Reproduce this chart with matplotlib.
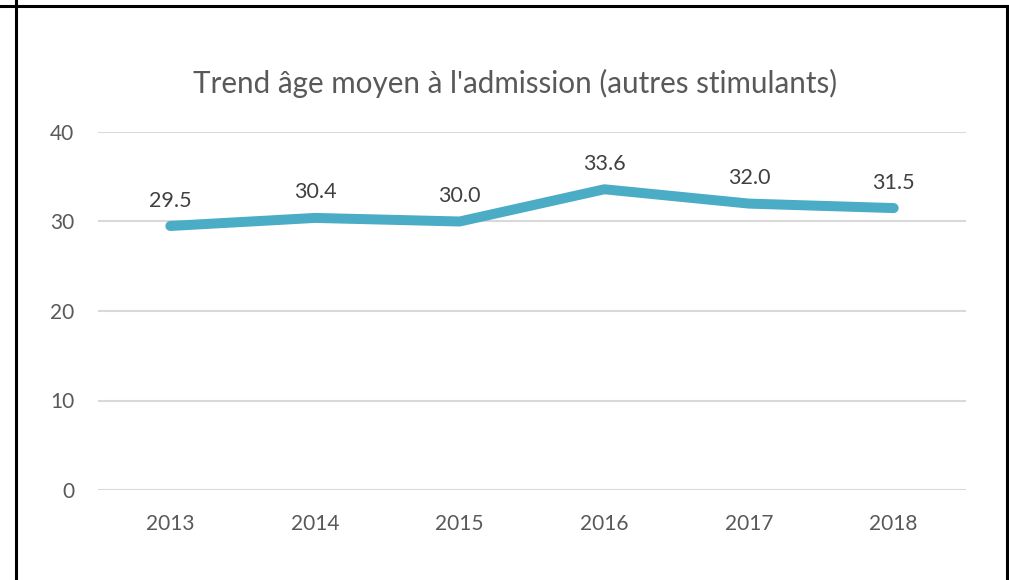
import matplotlib
matplotlib.use("Agg")
import matplotlib.pyplot as plt
from matplotlib.lines import Line2D

years = ["2013", "2014", "2015", "2016", "2017", "2018"]
values = [29.5, 30.4, 30.0, 33.6, 32.0, 31.5]
yticks = [0, 10, 20, 30, 40]
title = "Trend âge moyen à l'admission (autres stimulants)"

plt.rcParams['font.family'] = ['Lato', 'DejaVu Sans']

W, H = 1009, 580
fig = plt.figure(figsize=(W / 100, H / 100), dpi=100)
ax = fig.add_axes([98 / W, 1 - 490 / H, (966 - 98) / W, (490 - 132) / H])

x = list(range(len(years)))
ax.plot(x, values, color="#4BACC6", lw=7.2, solid_capstyle="round", solid_joinstyle="round", zorder=3)
for xi, v in zip(x, values):
    ax.annotate(f"{v:.1f}", (xi, v), xytext=(0, 14), textcoords="offset points",
                ha="center", va="baseline", fontsize=15.5, color="#404040")

ax.set_xlim(-0.5, len(years) - 0.5)
ax.set_ylim(0, 40)
ax.set_yticks(yticks)
ax.set_xticks(x)
ax.set_xticklabels(years)
ax.grid(axis="y", color="#D9D9D9", lw=1.5)
ax.set_axisbelow(True)
for s in ax.spines.values():
    s.set_visible(False)
ax.tick_params(axis="both", length=0, labelsize=15, labelcolor="#595959")
ax.tick_params(axis="y", pad=17)
ax.tick_params(axis="x", pad=17)

fig.text(515 / W, 1 - 92.5 / H, title, ha="center", va="baseline", fontsize=21.3, color="#595959")

# border lines
fig.add_artist(Line2D([0, 1008 / W], [1 - 5.5 / H, 1 - 5.5 / H], color="black", lw=2.2, transform=fig.transFigure))
fig.add_artist(Line2D([15.5 / W, 15.5 / W], [0, 1], color="black", lw=2.2, transform=fig.transFigure))
fig.add_artist(Line2D([1006.5 / W, 1006.5 / W], [0, 1 - 5.5 / H], color="black", lw=2.2, transform=fig.transFigure))

fig.savefig("out.png", dpi=100, facecolor="white")
